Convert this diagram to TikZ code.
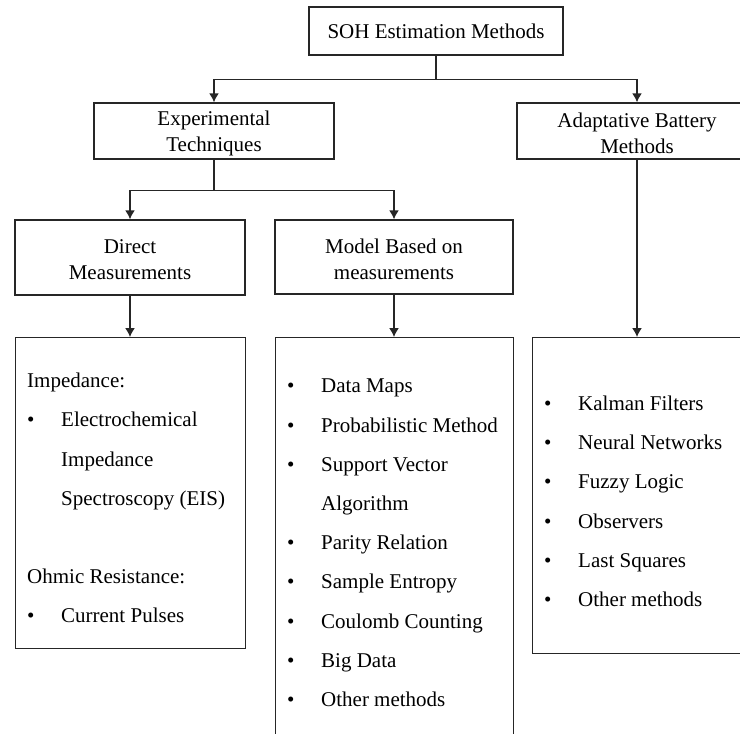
\documentclass[tikz,border=0pt]{standalone}
\usepackage{fontspec}
\setmainfont{Liberation Serif}
\usetikzlibrary{positioning,arrows.meta}
\newcommand{\bitem}[1]{\makebox[34pt][l]{\textbullet}#1}
\newcommand{\cont}[1]{\hspace*{34pt}#1}

\begin{document}
\begin{tikzpicture}[x=1pt,y=-1pt]
	\tikzstyle{box}=[rectangle, draw=black!85, line width=1.4pt, align=center, inner sep=0pt, font={\fontsize{21}{26}\selectfont}]
	\tikzstyle{listbox}=[rectangle, draw=black!85, line width=1.4pt, anchor=north west, inner sep=0pt]
	\tikzstyle{listtext}=[align=left, inner sep=0pt, font={\fontsize{21}{39.2}\selectfont}]
	\tikzstyle{connect}=[-{Latex[length=9pt,width=10pt]}, line width=1.4pt, draw=black!85]
	\useasboundingbox (0,0) rectangle (740,734);

	\node[box, minimum width=254pt, minimum height=48pt] (soh) at (436,31) {SOH Estimation Methods};
	\node[box, minimum width=240pt, minimum height=56pt] (exp) at (214,131) {\rule{0pt}{19pt}Experimental\\Techniques};
	\node[box, minimum width=240pt, minimum height=56pt] (adapt) at (637,131) {\rule{0pt}{19pt}Adaptative Battery\\Methods};
	\node[box, minimum width=230pt, minimum height=75pt] (direct) at (130,257.5) {\rule{0pt}{19pt}Direct\\Measurements};
	\node[box, minimum width=238pt, minimum height=74pt] (model) at (394,257) {\rule{0pt}{19pt}Model Based on\\measurements};

	% list boxes (middle and right ones run off the page)
	\node[listbox, minimum width=230pt, minimum height=311pt] (dlist) at (15,337) {};
	\node[listbox, minimum width=238pt, minimum height=430pt] (mlist) at (275,337) {};
	\node[listbox, minimum width=212pt, minimum height=316pt] (rlist) at (532,337) {};

	\node[listtext, below right=36pt and 12pt of dlist.north west] (dtext) {Impedance:\\
		\bitem{Electrochemical}\\ \cont{Impedance}\\ \cont{Spectroscopy (EIS)}\\[39.2pt]
		Ohmic Resistance:\\ \bitem{Current Pulses}};
	\node[listtext, below right=42pt and 12pt of mlist.north west] (mtext) {\bitem{Data Maps}\\
		\bitem{Probabilistic Method}\\ \bitem{Support Vector}\\ \cont{Algorithm}\\
		\bitem{Parity Relation}\\ \bitem{Sample Entropy}\\ \bitem{Coulomb Counting}\\
		\bitem{Big Data}\\ \bitem{Other methods}};
	\node[listtext, below right=58.7pt and 12pt of rlist.north west] (rtext) {\bitem{Kalman Filters}\\
		\bitem{Neural Networks}\\ \bitem{Fuzzy Logic}\\ \bitem{Observers}\\
		\bitem{Last Squares}\\ \bitem{Other methods}};

	\draw[connect] (soh.south) -- ++(0,24) -| (exp.north);
	\draw[connect] (soh.south) -- ++(0,24) -| (adapt.north);
	\draw[connect] (exp.south) -- ++(0,31) -| (direct.north);
	\draw[connect] (exp.south) -- ++(0,31) -| (model.north);
	\draw[connect] (direct.south) -- (direct.south |- dlist.north);
	\draw[connect] (model.south) -- (model.south |- mlist.north);
	\draw[connect] (adapt.south) -- (adapt.south |- rlist.north);
\end{tikzpicture}
\end{document}
